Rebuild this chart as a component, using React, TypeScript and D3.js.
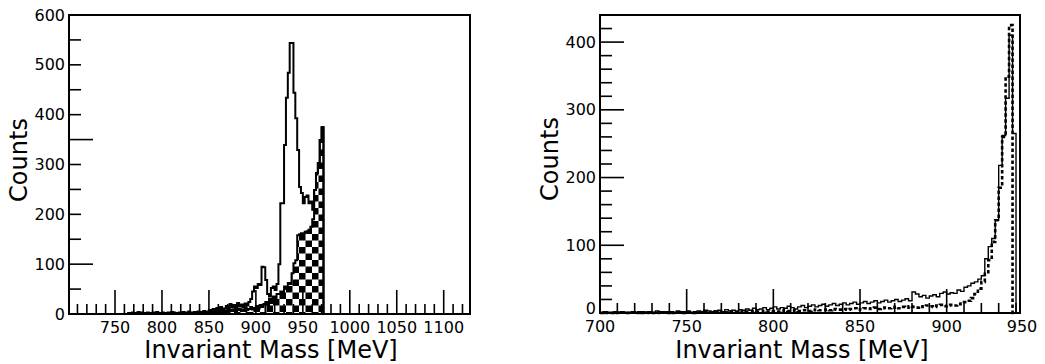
import React, { useEffect, useRef } from "react";
import * as d3 from "d3";

// Left panel: all events (open) and selected events (checkered), 2 MeV bins
const leftAllStart = 762;
const leftAll = [
  0, 2, 1, 3, 2, 1, 4, 2, 3, 1, 2, 3, 2, 1, 3, 2, 4, 2, 1,
  3, 2, 1, 3, 2, 4, 3, 2, 1, 3, 2, 4, 3, 2, 5, 3, 2, 4, 3, 5,
  2, 4, 6, 3, 5, 8, 6, 10, 7, 12, 9, 14, 8, 11, 16, 10, 20, 13, 18, 12,
  22, 15, 19, 14, 21, 17, 24, 30, 45, 55, 52, 60, 58, 95, 94, 68, 40, 35, 52, 55,
  48, 60, 100, 222, 222, 339, 434, 484, 544, 544, 444, 393, 329, 255, 243, 222, 235, 238, 222, 226,
  209, 249, 283, 303, 349, 375,
];
const leftCheckedStart = 840;
const leftChecked = [
  0, 1, 0, 2, 1, 3, 2, 4, 2, 5, 3, 6, 4, 5, 7, 4, 8, 6, 9, 5,
  8, 10, 6, 9, 12, 8, 10, 14, 9, 12, 16, 11, 18, 14, 20, 24, 18, 30, 22, 35,
  28, 40, 40, 45, 42, 55, 50, 62, 60, 82, 102, 108, 158, 160, 162, 162, 165, 166, 169, 175,
  190, 249, 283, 303, 349, 375,
];

// Right panel: solid and dashed histograms, 2 MeV bins from 700
const rightStart = 700;
const rightSolid = [
  1, 2, 1, 1, 2, 1, 2, 1, 1, 2, 1, 2, 2, 1, 2, 1, 3, 2, 1, 2,
  2, 1, 3, 2, 2, 3, 1, 2, 3, 2, 4, 3, 2, 3, 4, 2, 5, 3, 4, 3,
  5, 4, 6, 4, 7, 5, 6, 8, 5, 7, 9, 6, 8, 7, 10, 8, 6, 9, 11, 8,
  10, 12, 9, 11, 13, 10, 12, 14, 11, 13, 15, 12, 14, 16, 13, 15, 17, 14, 16, 18,
  15, 17, 19, 16, 18, 20, 17, 19, 21, 18, 31, 28, 24, 26, 22, 25, 27, 24, 29, 31,
  28, 30, 29, 34, 32, 38, 40, 44, 46, 50, 55, 80, 98, 110, 137, 218, 262, 317, 410, 265,
];
const rightDashed = [
  0, 1, 0, 0, 1, 0, 1, 0, 0, 1, 0, 1, 0, 1, 0, 0, 1, 0, 1, 0,
  1, 0, 1, 1, 0, 1, 1, 0, 1, 1, 2, 1, 1, 2, 1, 2, 1, 2, 2, 1,
  2, 1, 2, 2, 3, 2, 2, 3, 2, 3, 3, 2, 3, 4, 3, 3, 4, 3, 4, 4,
  3, 4, 5, 4, 4, 5, 4, 6, 5, 5, 6, 5, 6, 7, 5, 6, 7, 6, 7, 8,
  6, 7, 8, 7, 8, 9, 7, 9, 8, 10, 9, 8, 10, 9, 11, 10, 9, 11, 12, 10,
  11, 12, 11, 13, 14, 16, 18, 22, 28, 36, 46, 58, 78, 105, 137, 185, 260, 349, 425, 0,
];

const leftXLabels = [750, 800, 850, 900, 950, 1000, 1050, 1100];
const leftYLabels = [0, 100, 200, 300, 400, 500, 600];
const leftYLong = [100, 350];
const rightXLabels = [700, 750, 800, 850, 900];
const rightXEndLabel = "950";
const rightYLabels = [0, 100, 200, 300, 400];

const binWidth = 2;
const checker = 6.5; // checker cell size
const font = "DejaVu Sans, sans-serif";

function stepPoints(start: number, values: number[]) {
  const pts: [number, number][] = [[start, 0]];
  values.forEach((v, i) => {
    pts.push([start + i * binWidth, v]);
    pts.push([start + (i + 1) * binWidth, v]);
  });
  pts.push([start + values.length * binWidth, 0]);
  return pts;
}

function drawAxes(g: any, x: any, y: any, opts: any) {
  const [x0, x1] = x.range();
  const [yb, yt] = y.range();

  // frame
  g.append("rect")
    .attr("x", x0).attr("y", yt)
    .attr("width", x1 - x0).attr("height", yb - yt)
    .attr("fill", "none").attr("stroke", "#000").attr("stroke-width", 2);

  // x ticks every 10, long every 50
  const xd = x.domain();
  for (let v = Math.ceil(xd[0] / 10) * 10; v <= xd[1]; v += 10) {
    const len = v % 50 === 0 ? 24 : 10;
    g.append("line")
      .attr("x1", x(v)).attr("x2", x(v))
      .attr("y1", yb).attr("y2", yb - len)
      .attr("stroke", "#000").attr("stroke-width", 1.6);
  }
  // y ticks
  const yd = y.domain();
  for (let v = opts.yStep; v <= yd[1]; v += opts.yStep) {
    const len = opts.yLong.includes(v) ? 24 : 12;
    g.append("line")
      .attr("x1", x0).attr("x2", x0 + len)
      .attr("y1", y(v)).attr("y2", y(v))
      .attr("stroke", "#000").attr("stroke-width", 1.6);
  }

  g.selectAll(".xl")
    .data(opts.xLabels)
    .enter().append("text")
    .attr("x", (d: number) => x(d))
    .attr("y", yb + 19)
    .attr("text-anchor", "middle")
    .attr("font-size", 16)
    .text((d: number) => d);

  g.selectAll(".yl")
    .data(opts.yLabels)
    .enter().append("text")
    .attr("x", x0 - 4)
    .attr("y", (d: number) => y(d) - (d === 0 ? opts.zeroLift : 0))
    .attr("dy", "0.35em")
    .attr("text-anchor", "end")
    .attr("font-size", 16)
    .text((d: number) => d);

  g.append("text")
    .attr("x", opts.xTitleX).attr("y", 358)
    .attr("text-anchor", "middle").attr("font-size", 24)
    .text("Invariant Mass [MeV]");

  g.append("text")
    .attr("transform", `translate(${opts.yTitleX},${opts.yTitleY}) rotate(-90)`)
    .attr("text-anchor", "middle").attr("font-size", 24)
    .text("Counts");
}

export default function App() {
  const chartElement = useRef<SVGSVGElement>(null);

  useEffect(() => {
    const svg = d3.select(chartElement.current);
    svg.selectAll("*").remove();
    svg.attr("font-family", font).attr("fill", "#000");

    const pat = svg.append("defs").append("pattern")
      .attr("id", "checker").attr("patternUnits", "userSpaceOnUse")
      .attr("width", checker * 2).attr("height", checker * 2);
    pat.append("rect").attr("width", checker).attr("height", checker).attr("fill", "#000");
    pat.append("rect").attr("x", checker).attr("y", checker)
      .attr("width", checker).attr("height", checker).attr("fill", "#000");

    // Left panel
    const xL = d3.scaleLinear().domain([701, 1128]).range([69, 470]);
    const yL = d3.scaleLinear().domain([0, 600]).range([314, 15]);
    const lineL = d3.line<[number, number]>().x((d) => xL(d[0])).y((d) => yL(d[1]));
    const gL = svg.append("g");

    gL.append("path")
      .attr("d", lineL(stepPoints(leftCheckedStart, leftChecked)))
      .attr("fill", "url(#checker)")
      .attr("stroke", "#000").attr("stroke-width", 2);
    gL.append("path")
      .attr("d", lineL(stepPoints(leftAllStart, leftAll)))
      .attr("fill", "none")
      .attr("stroke", "#000").attr("stroke-width", 2);

    drawAxes(gL, xL, yL, {
      yStep: 50, yLong: leftYLong,
      xLabels: leftXLabels, yLabels: leftYLabels, zeroLift: 0,
      xTitleX: 271, yTitleX: 27, yTitleY: 160,
    });

    // Right panel
    const xR = d3.scaleLinear().domain([700, 942.3]).range([600, 1020]);
    const yR = d3.scaleLinear().domain([0, 440]).range([313, 15]);
    const lineR = d3.line<[number, number]>().x((d) => xR(d[0])).y((d) => yR(d[1]));
    const gR = svg.append("g");

    gR.append("path")
      .attr("d", lineR(stepPoints(rightStart, rightSolid)))
      .attr("fill", "none")
      .attr("stroke", "#000").attr("stroke-width", 1.4);
    gR.append("path")
      .attr("d", lineR(stepPoints(rightStart, rightDashed)))
      .attr("fill", "none")
      .attr("stroke", "#000").attr("stroke-width", 2.6)
      .attr("stroke-dasharray", "3.5,2.5");

    drawAxes(gR, xR, yR, {
      yStep: 20, yLong: [100, 200, 300, 400],
      xLabels: rightXLabels, yLabels: rightYLabels, zeroLift: 5,
      xTitleX: 802, yTitleX: 558, yTitleY: 159,
    });
    gR.append("text")
      .attr("x", xR.range()[1] + 2).attr("y", yR.range()[0] + 19)
      .attr("text-anchor", "middle").attr("font-size", 16)
      .text(rightXEndLabel);
  }, []);

  return (
    <svg
      ref={chartElement}
      width={1045}
      height={364}
      style={{ position: "absolute", left: 0, top: 0, background: "#fff" }}
    />
  );
}
